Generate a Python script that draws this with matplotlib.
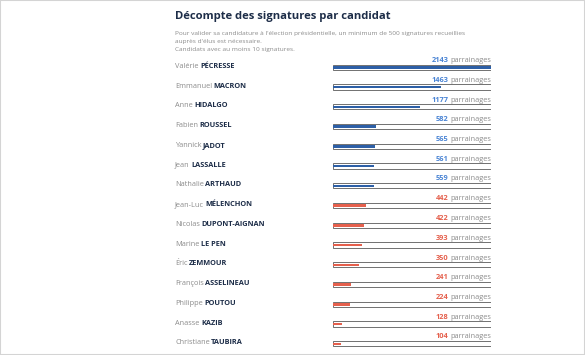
import matplotlib
matplotlib.use("Agg")
import matplotlib.pyplot as plt
from matplotlib.patches import Rectangle
from matplotlib.transforms import blended_transform_factory, offset_copy

first_names = ["Valérie", "Emmanuel", "Anne", "Fabien", "Yannick", "Jean", "Nathalie",
               "Jean-Luc", "Nicolas", "Marine", "Éric", "François", "Philippe", "Anasse", "Christiane"]
last_names = ["PÉCRESSE", "MACRON", "HIDALGO", "ROUSSEL", "JADOT", "LASSALLE", "ARTHAUD",
              "MÉLENCHON", "DUPONT-AIGNAN", "LE PEN", "ZEMMOUR", "ASSELINEAU", "POUTOU", "KAZIB", "TAUBIRA"]
signatures = [2143, 1463, 1177, 582, 565, 561, 559, 442, 422, 393, 350, 241, 224, 128, 104]
groups = ["a"] * 7 + ["b"] * 8
scale_max = 2143

title = "Décompte des signatures par candidat"
subtitle = ["Pour valider sa candidature à l'élection présidentielle, un minimum de 500 signatures recueillies",
            "auprès d'élus est nécessaire.",
            "Candidats avec au moins 10 signatures."]
unit = "parrainages"

W, H = 585, 355
DPI = 100
FONT = "Open Sans"
fill_colors = {"a": "#2d5fa6", "b": "#e5604d"}
num_colors = {"a": "#4a84d4", "b": "#e5604d"}
navy = "#1d2d48"
grey = "#8c8c8c"

fig = plt.figure(figsize=(W / DPI, H / DPI), dpi=DPI)
fig.patch.set_facecolor("white")

def fx(px):
    return px / W

def fy(py):
    return 1 - py / H

# border
fig.patches.append(Rectangle((0, 0), 1, 1, transform=fig.transFigure, fill=False,
                             edgecolor="#d4d4d4", lw=1.5))

# title and subtitle
fig.text(fx(175), fy(16), title, fontsize=8.1, fontweight="bold", color=navy,
         family=FONT, va="center", ha="left")
for i, line in enumerate(subtitle):
    fig.text(fx(175), fy(33.5 + 8.2 * i), line, fontsize=4.65, color=grey,
             family=FONT, va="center", ha="left")

# bar axes
row0, step = 67.3, 19.75
n = len(signatures)
top_px = row0 - step / 2
bot_px = row0 + step * (n - 1) + step / 2
x0_px, x1_px = 333, 491
ax = fig.add_axes([fx(x0_px), fy(bot_px), fx(x1_px - x0_px), (bot_px - top_px) / H])
ax.set_xlim(0, scale_max)
ax.set_ylim(n - 0.5, -0.5)
ax.axis("off")

ypos = list(range(n))
ax.barh(ypos, [scale_max] * n, height=0.26, color="white", edgecolor="#5a5a5a", lw=0.6, zorder=1)
ax.barh(ypos, signatures, height=0.13, color=[fill_colors[g] for g in groups], lw=0, zorder=2)

fig.canvas.draw()
renderer = fig.canvas.get_renderer()

name_tr = blended_transform_factory(fig.transFigure, ax.transData)
for i in range(n):
    t1 = fig.text(fx(175), i, first_names[i], fontsize=5.3, color=grey, family=FONT,
                  va="center", ha="left", transform=offset_copy(name_tr, fig=fig, x=0, y=1.0, units="dots"))
    bb = t1.get_window_extent(renderer)
    fig.text(fx(175), i, last_names[i], fontsize=5.3, color=navy, fontweight="bold",
             family=FONT, va="center", ha="left",
             transform=offset_copy(name_tr, fig=fig, x=bb.width + 1.5, y=1.0, units="dots"))

val_tr = blended_transform_factory(ax.transAxes, ax.transData)
for i in range(n):
    u = ax.text(1.0, i, unit, fontsize=5.3, color=grey, family=FONT, va="center", ha="right",
                transform=offset_copy(val_tr, fig=fig, x=0, y=6.8, units="dots"))
    bb = u.get_window_extent(renderer)
    ax.text(1.0, i, str(signatures[i]), fontsize=5.3, color=num_colors[groups[i]],
            fontweight="bold", family=FONT, va="center", ha="right",
            transform=offset_copy(val_tr, fig=fig, x=-bb.width - 1.5, y=6.8, units="dots"))

fig.savefig("out.png", dpi=DPI)
